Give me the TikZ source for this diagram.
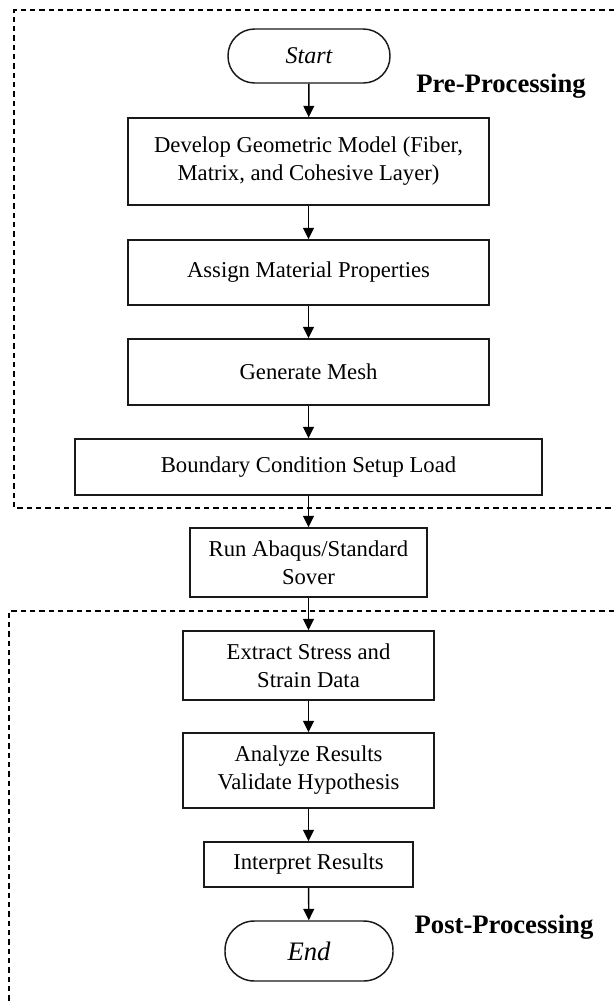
\documentclass[tikz,border=0pt]{standalone}
\usepackage{fontspec}
\setmainfont{Liberation Serif}
\usetikzlibrary{arrows.meta}
\begin{document}
\begin{tikzpicture}[x=0.75pt,y=-0.75pt,
  box/.style={draw=black!90, line width=1.1pt, inner sep=0pt, align=center,
    font=\fontsize{17}{21}\selectfont},
  term/.style={box, font=\fontsize{18}{21}\selectfont\itshape},
  flow/.style={line width=1.1pt, -{Triangle[length=8.5pt,width=8pt]}},
  region/.style={line width=0.9pt, dash pattern=on 4pt off 3pt},
  tag/.style={font=\fontsize{20}{24}\selectfont\bfseries, inner sep=0pt}]
\useasboundingbox (0,0) rectangle (614,1004);
% regions
\draw[region] (614,10) -- (14,10) -- (14,508) -- (614,508);
\draw[region] (614,611) -- (9,611) -- (9,1004);
% nodes
\node[term, minimum width=121.5pt, minimum height=40.5pt, rounded corners=20pt] (start) at (309,56) {Start};
\node[box, minimum width=270.75pt, minimum height=65.25pt] (geom) at (308.5,161.5) {Develop Geometric Model (Fiber,\\Matrix, and Cohesive Layer)};
\node[box, minimum width=270.75pt, minimum height=48.75pt] (mat) at (308.5,272.5) {Assign Material Properties};
\node[box, minimum width=270.75pt, minimum height=49.5pt] (mesh) at (308.5,372) {Generate Mesh};
\node[box, minimum width=350.25pt, minimum height=42pt] (bc) at (308.5,467) {Boundary Condition Setup Load};
\node[box, minimum width=177.75pt, minimum height=51.75pt] (run) at (308.5,562.5) {Run Abaqus/Standard\\Sover};
\node[box, minimum width=188.25pt, minimum height=51.75pt] (extract) at (308.5,665.5) {Extract Stress and\\Strain Data};
\node[box, minimum width=188.25pt, minimum height=56.25pt] (analyze) at (308.5,770.5) {Analyze Results\\Validate Hypothesis};
\node[box, minimum width=156.75pt, minimum height=33.75pt] (interp) at (308.5,864.5) {Interpret Results};
\node[term, minimum width=126pt, minimum height=45pt, rounded corners=22pt, font=\fontsize{20}{24}\selectfont\itshape] (end) at (309,951) {End};
\node[tag] (pre) at (501,86) {Pre-Processing};
\node[tag] (post) at (504,927) {Post-Processing};
% connectors
\draw[flow] (start) -- (geom);
\draw[flow] (geom) -- (mat);
\draw[flow] (mat) -- (mesh);
\draw[flow] (mesh) -- (bc);
\draw[flow] (bc) -- (run);
\draw[flow] (run) -- (extract);
\draw[flow] (extract) -- (analyze);
\draw[flow] (analyze) -- (interp);
\draw[flow] (interp) -- (end);
\end{tikzpicture}
\end{document}
